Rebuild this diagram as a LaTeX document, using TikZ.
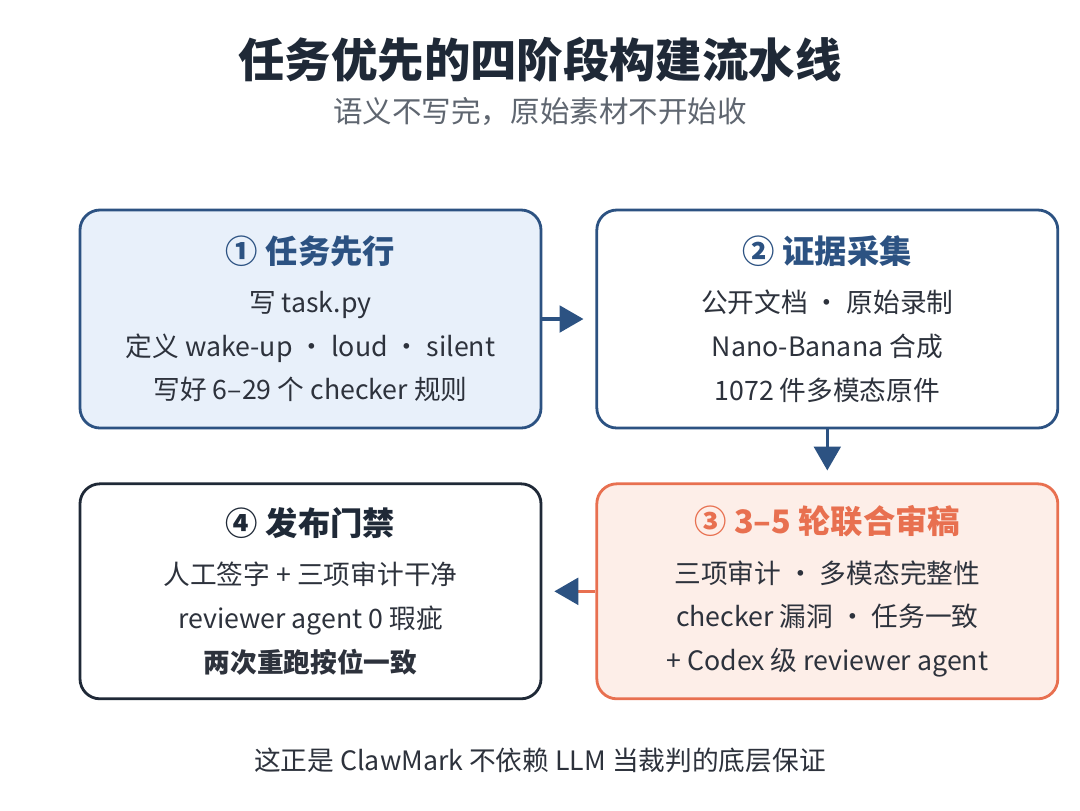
\documentclass[tikz,border=0pt]{standalone}
\usepackage{fontspec}
\setmainfont{Noto Sans CJK SC}
\usepackage{tikz}
\usetikzlibrary{arrows.meta,positioning}
\usepackage{xcolor}
\definecolor{pfblue}{RGB}{44,82,130}
\definecolor{pflightblue}{RGB}{232,240,250}
\definecolor{pforange}{RGB}{232,112,80}
\definecolor{pflightorange}{RGB}{253,238,232}
\definecolor{pfnavy}{RGB}{31,41,55}
\definecolor{pftext}{RGB}{45,50,60}
\definecolor{pfgray}{RGB}{95,102,112}
\tikzstyle{arrow} = [line width=2.2pt,-{Triangle[length=17pt,width=19pt]},color=pfblue,shorten >=8.5pt]
\tikzstyle{stage} = [rectangle, rounded corners=0.5cm, minimum width=11.525cm, minimum height=5.45cm, align=center, draw=pfblue, fill=white, line width=2pt, text=pftext, font=\fontsize{19}{31}\selectfont]
\newcommand{\stagetitle}[2]{{\fontsize{23}{31}\selectfont\bfseries\color{#1}#2}\\[4pt]}

\begin{document}
\begin{tikzpicture}[node distance=1.325cm]
\useasboundingbox[fill=white] (0,0) rectangle (27,-20.25);
% Heading
\node (title) at (13.5,-1.5) [font=\fontsize{33}{40}\selectfont\bfseries, text=pfnavy] {任务优先的四阶段构建流水线};
\node (subtitle) at (13.5,-2.8) [font=\fontsize{21}{26}\selectfont, text=pfgray] {语义不写完，原始素材不开始收};

% Stages
\node (task) at (7.7625,-7.975) [stage, fill=pflightblue] {\stagetitle{pfblue}{① 任务先行}写 task.py\\定义 wake-up · loud · silent\\写好 6–29 个 checker 规则};
\node (evidence) [stage, right=of task] {\stagetitle{pfblue}{② 证据采集}公开文档 · 原始录制\\Nano-Banana 合成\\1072 件多模态原件};
\node (review) [stage, below=of evidence, draw=pforange, fill=pflightorange, minimum height=5.375cm] {\stagetitle{pforange}{③ 3–5 轮联合审稿}三项审计 · 多模态完整性\\checker 漏洞 · 任务一致\\+ Codex 级 reviewer agent};
\node (gate) [stage, left=of review, draw=pfnavy, minimum height=5.375cm] {\stagetitle{pfnavy}{④ 发布门禁}人工签字 + 三项审计干净\\reviewer agent 0 瑕疵\\\textbf{两次重跑按位一致}};

% Flows
\draw[arrow] (task) -- (evidence);
\draw[arrow] (evidence) -- (review);
\draw[arrow, pforange, -{Triangle[length=17pt,width=19pt,color=pfblue]}] (review) -- (gate);

% Footer
\node (footer) at (13.5,-19) [font=\fontsize{19}{24}\selectfont, text=pftext] {这正是 ClawMark 不依赖 LLM 当裁判的底层保证};
\end{tikzpicture}
\end{document}
